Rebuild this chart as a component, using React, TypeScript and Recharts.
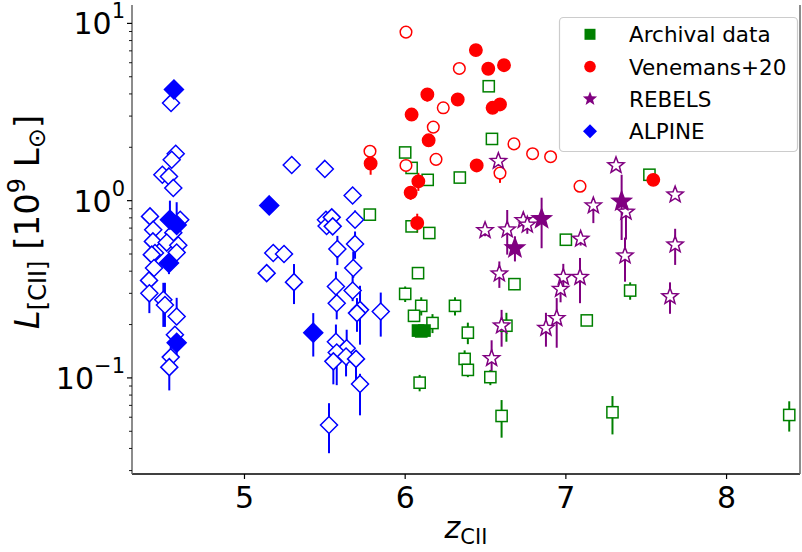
import React from "react";
import { ScatterChart, Scatter, XAxis, YAxis, ErrorBar } from "recharts";

// each row: [z, L (1e9 Lsun), err-, err+]
const archivalOpen = [
  [6.52, 4.42, 0, 0], [6.54, 2.23, 0, 0], [6.0, 1.87, 0, 0], [6.04, 1.53, 0, 0],
  [6.14, 1.31, 0.05, 0.05], [6.34, 1.35, 0, 0], [5.78, 0.834, 0, 0], [6.04, 0.716, 0.03, 0.03],
  [6.15, 0.657, 0.03, 0.03], [6.08, 0.39, 0, 0], [6.0, 0.298, 0.03, 0.03], [6.1, 0.255, 0.03, 0.03],
  [6.055, 0.224, 0, 0], [6.17, 0.204, 0.025, 0.025], [6.31, 0.255, 0.03, 0.03], [6.39, 0.18, 0.025, 0.025],
  [6.37, 0.128, 0.015, 0.015], [6.39, 0.111, 0.01, 0.01], [6.53, 0.101, 0.01, 0.01], [6.09, 0.094, 0.01, 0.01],
  [6.68, 0.338, 0.025, 0.025], [6.63, 0.197, 0.037, 0.036], [7.0, 0.602, 0.03, 0.03], [7.13, 0.211, 0, 0],
  [7.52, 1.4, 0, 0], [7.4, 0.311, 0.035, 0.035], [7.29, 0.064, 0.016, 0.015], [8.39, 0.0618, 0.012, 0.012],
  [6.6, 0.061, 0.015, 0.014],
];
const archivalFilled = [
  [6.08, 0.185, 0.01, 0.01], [6.1, 0.183, 0.01, 0.01], [6.12, 0.185, 0.01, 0.01],
];
const venemansOpen = [
  [6.005, 8.93, 0, 0], [6.337, 5.57, 0, 0], [6.237, 3.34, 0, 0], [6.175, 2.6, 0, 0],
  [5.781, 1.9, 0, 0], [6.005, 1.58, 0, 0], [6.192, 1.71, 0.12, 0.12], [6.677, 2.09, 0, 0],
  [6.793, 1.84, 0.08, 0.08], [6.905, 1.77, 0.1, 0.1], [6.59, 1.43, 0.17, 0.06], [7.088, 1.205, 0.07, 0.07],
];
const venemansFilled = [
  [6.44, 7.07, 0, 0], [6.517, 5.55, 0, 0], [6.615, 5.81, 0, 0], [6.138, 3.97, 0.35, 0.35],
  [6.327, 3.72, 0, 0], [6.544, 3.34, 0, 0], [6.59, 3.49, 0, 0], [6.04, 3.06, 0, 0],
  [6.146, 2.19, 0.15, 0.15], [5.785, 1.62, 0.22, 0.05], [6.445, 1.58, 0, 0], [6.082, 1.285, 0.15, 0.15],
  [6.034, 1.11, 0.1, 0.1], [6.075, 0.748, 0.088, 0.096], [7.544, 1.31, 0, 0],
];
const rebelsOpen = [
  [6.58, 1.67, 0.1, 0.05], [6.497, 0.68, 0.05, 0.05], [6.635, 0.686, 0.19, 0.2], [6.735, 0.774, 0.07, 0.07],
  [6.76, 0.73, 0.08, 0.06], [7.092, 0.608, 0.05, 0.05], [7.171, 0.937, 0.19, 0.07], [7.312, 1.58, 0, 0],
  [7.68, 1.08, 0.05, 0.05], [7.374, 0.863, 0.26, 0.07], [7.368, 0.489, 0.14, 0.13], [7.68, 0.564, 0.13, 0.13],
  [7.648, 0.288, 0.058, 0.058], [6.586, 0.387, 0.065, 0.067], [6.984, 0.37, 0.05, 0.07], [7.088, 0.37, 0.106, 0.105],
  [6.967, 0.317, 0.05, 0.06], [6.943, 0.217, 0.069, 0.065], [6.876, 0.191, 0.041, 0.042], [6.6, 0.197, 0.047, 0.045],
  [6.538, 0.129, 0.023, 0.034],
];
const rebelsFilled = [
  [6.849, 0.789, 0.25, 0.25], [6.683, 0.54, 0.086, 0.089], [7.347, 0.99, 0.39, 0.41],
];
const alpineOpen = [
  [4.543, 3.56, 0, 0], [4.572, 1.84, 0, 0], [4.547, 1.7, 0, 0], [4.489, 1.4, 0, 0], [4.53, 1.37, 0, 0],
  [4.557, 1.18, 0, 0], [5.294, 1.59, 0, 0], [5.5, 1.51, 0, 0], [4.412, 0.815, 0, 0], [4.432, 0.686, 0, 0],
  [4.6, 0.78, 0, 0], [4.557, 0.66, 0, 0], [4.43, 0.589, 0, 0], [4.516, 0.58, 0, 0], [4.588, 0.56, 0, 0],
  [4.443, 0.507, 0, 0], [4.578, 0.51, 0, 0], [5.179, 0.507, 0, 0], [5.246, 0.5, 0, 0], [5.507, 0.78, 0, 0],
  [5.511, 0.72, 0, 0], [4.423, 0.496, 0, 0], [4.437, 0.417, 0, 0], [4.406, 0.355, 0.04, 0.04],
  [4.408, 0.3, 0.068, 0.1], [4.495, 0.276, 0.082, 0.068], [4.505, 0.258, 0.064, 0.086], [4.578, 0.222, 0.023, 0.061],
  [4.567, 0.175, 0.02, 0.02], [4.541, 0.131, 0.01, 0.02], [4.532, 0.115, 0.03, 0.01], [5.138, 0.39, 0, 0],
  [5.308, 0.347, 0.086, 0.092], [5.673, 1.07, 0, 0], [5.543, 0.805, 0, 0], [5.549, 0.716, 0, 0],
  [5.688, 0.78, 0.05, 0.1], [5.578, 0.533, 0.1, 0.1], [5.688, 0.57, 0.1, 0.1], [5.677, 0.417, 0.05, 0.1],
  [5.569, 0.328, 0.06, 0.07], [5.673, 0.311, 0.04, 0.1], [5.574, 0.264, 0.05, 0.06], [5.719, 0.242, 0.088, 0.089],
  [5.7, 0.232, 0.05, 0.05], [5.848, 0.237, 0.066, 0.066], [5.569, 0.16, 0.03, 0.04], [5.636, 0.147, 0.03, 0.04],
  [5.574, 0.139, 0.048, 0.02], [5.632, 0.132, 0.03, 0.02], [5.694, 0.128, 0.04, 0.01], [5.553, 0.124, 0.032, 0.02],
  [5.719, 0.0925, 0.031, 0.013], [5.526, 0.0542, 0.0166, 0.0178],
];
const alpineFilled = [
  [4.561, 4.24, 0, 0], [5.154, 0.94, 0, 0], [4.536, 0.78, 0.06, 0.22], [4.578, 0.73, 0.05, 0.25],
  [4.53, 0.445, 0.06, 0.06], [4.578, 0.158, 0.03, 0.03], [5.428, 0.18, 0.048, 0.052],
];

const xTicks = [5, 6, 7, 8];
const yMajor = [0.1, 1, 10];
const yMinor = [0.03, 0.04, 0.05, 0.06, 0.07, 0.08, 0.09, 0.2, 0.3, 0.4, 0.5, 0.6, 0.7, 0.8, 0.9, 2, 3, 4, 5, 6, 7, 8, 9];
const legendItems = ["Archival data", "Venemans+20", "REBELS", "ALPINE"];

const GREEN = "#008000";
const RED = "#ff0000";
const PURPLE = "#800080";
const BLUE = "#0000ff";
const FONT = "DejaVu Sans, sans-serif";

const toRows = (rows: number[][]) =>
  rows.map(([z, L, lo, hi]) => ({ z, L, err: [lo, hi] }));

const starPoints = (cx: number, cy: number, R: number, r: number) => {
  const pts: string[] = [];
  for (let i = 0; i < 10; i++) {
    const rad = i % 2 === 0 ? R : r;
    const a = -Math.PI / 2 + (i * Math.PI) / 5;
    pts.push(`${cx + rad * Math.cos(a)},${cy + rad * Math.sin(a)}`);
  }
  return pts.join(" ");
};

const makeShape = (kind: string, color: string, filled: boolean) => (props: any) => {
  const { cx, cy } = props;
  if (cx == null || cy == null) return null;
  const fill = filled ? color : "#fff";
  const sw = 1.5;
  if (kind === "square") {
    const s = 5.6;
    return <rect x={cx - s} y={cy - s} width={2 * s} height={2 * s} fill={fill} stroke={color} strokeWidth={sw} />;
  }
  if (kind === "circle") {
    return <circle cx={cx} cy={cy} r={filled ? 6.2 : 5.8} fill={fill} stroke={color} strokeWidth={sw} />;
  }
  if (kind === "star") {
    const R = filled ? 10 : 8.5;
    return <polygon points={starPoints(cx, cy, R, R * 0.42)} fill={fill} stroke={color} strokeWidth={sw} />;
  }
  const d = filled ? 9.5 : 8.5;
  return (
    <polygon
      points={`${cx},${cy - d} ${cx + d},${cy} ${cx},${cy + d} ${cx - d},${cy}`}
      fill={fill}
      stroke={color}
      strokeWidth={sw}
    />
  );
};

const XTick = ({ x, y, payload }: any) => (
  <g>
    <line x1={x} x2={x} y1={y} y2={y + 5} stroke="#000" strokeWidth={1.2} />
    <text x={x} y={y + 34} textAnchor="middle" fontSize={30} fontFamily={FONT} fill="#000">
      {payload.value}
    </text>
  </g>
);

const YTick = ({ x, y, payload }: any) => {
  const v = payload.value;
  const major = yMajor.includes(v);
  const exp = Math.round(Math.log10(v));
  return (
    <g>
      <line x1={x} x2={x - (major ? 5 : 3)} y1={y} y2={y} stroke="#000" strokeWidth={major ? 1.2 : 0.9} />
      {major && (
        <text x={x - 7} y={y + 11} textAnchor="end" fontSize={30} fontFamily={FONT} fill="#000">
          <tspan>10</tspan>
          <tspan dy={-16} fontSize={21}>{exp < 0 ? "\u2212" + -exp : exp}</tspan>
        </text>
      )}
    </g>
  );
};

const series = [
  { rows: archivalOpen, kind: "square", color: GREEN, filled: false },
  { rows: archivalFilled, kind: "square", color: GREEN, filled: true },
  { rows: venemansOpen, kind: "circle", color: RED, filled: false },
  { rows: venemansFilled, kind: "circle", color: RED, filled: true },
  { rows: rebelsOpen, kind: "star", color: PURPLE, filled: false },
  { rows: rebelsFilled, kind: "star", color: PURPLE, filled: true },
  { rows: alpineOpen, kind: "diamond", color: BLUE, filled: false },
  { rows: alpineFilled, kind: "diamond", color: BLUE, filled: true },
];

const legendMarks = [
  { kind: "square", color: GREEN },
  { kind: "circle", color: RED },
  { kind: "star", color: PURPLE },
  { kind: "diamond", color: BLUE },
];

const LegendMark = ({ kind, color, cx, cy }: any) => {
  if (kind === "square") return <rect x={cx - 5.5} y={cy - 5.5} width={11} height={11} fill={color} />;
  if (kind === "circle") return <circle cx={cx} cy={cy} r={5.8} fill={color} />;
  if (kind === "star") return <polygon points={starPoints(cx, cy, 7.5, 3.2)} fill={color} />;
  return <polygon points={`${cx},${cy - 7} ${cx + 7},${cy} ${cx},${cy + 7} ${cx - 7},${cy}`} fill={color} />;
};

export default function App() {
  return (
    <div style={{ position: "absolute", left: 0, top: 0, width: 802, height: 552, background: "#fff" }}>
      <ScatterChart width={802} height={552} margin={{ top: 5, right: 1, bottom: 18, left: 32 }}>
        <XAxis
          dataKey="z"
          type="number"
          domain={[4.3, 8.457]}
          ticks={xTicks}
          allowDataOverflow
          height={60}
          tickSize={0}
          tickMargin={0}
          tick={<XTick />}
          axisLine={{ stroke: "#000", strokeWidth: 1.5 }}
          tickLine={false}
        />
        <XAxis
          xAxisId="top"
          orientation="top"
          type="number"
          domain={[4.3, 8.457]}
          height={0}
          tick={false}
          tickLine={false}
          axisLine={{ stroke: "#666", strokeWidth: 1.5 }}
        />
        <YAxis
          dataKey="L"
          type="number"
          scale="log"
          domain={[0.0287, 12.7]}
          ticks={[...yMinor, ...yMajor].sort((a, b) => a - b)}
          allowDataOverflow
          width={100}
          tickSize={0}
          tickMargin={0}
          tick={<YTick />}
          tickLine={false}
          interval={0}
          axisLine={{ stroke: "#666", strokeWidth: 1.5 }}
        />
        <YAxis
          yAxisId="right"
          orientation="right"
          type="number"
          domain={[0, 1]}
          width={1}
          tick={false}
          tickLine={false}
          axisLine={{ stroke: "#666", strokeWidth: 1.5 }}
        />
        {series.map((s, i) => (
          <Scatter
            key={i}
            data={toRows(s.rows)}
            dataKey="L"
            shape={makeShape(s.kind, s.color, s.filled)}
            isAnimationActive={false}
          >
            <ErrorBar dataKey="err" direction="y" width={0} stroke={s.color} strokeWidth={2} isAnimationActive={false} />
          </Scatter>
        ))}
      </ScatterChart>
      <svg
        width={802}
        height={552}
        style={{ position: "absolute", left: 0, top: 0, pointerEvents: "none" }}
        fontFamily={FONT}
      >
        <text x={466} y={538} textAnchor="middle" fontSize={30} fill="#000">
          <tspan fontStyle="italic">z</tspan>
          <tspan fontSize={21} dy={6}>CII</tspan>
        </text>
        <text transform="rotate(-90 39 222)" x={39} y={222} textAnchor="middle" fontSize={34} fill="#000">
          <tspan fontStyle="italic">L</tspan>
          <tspan fontSize={24} dy={7}>[CII]</tspan>
          <tspan dy={-7}> [10</tspan>
          <tspan fontSize={24} dy={-14}>9</tspan>
          <tspan dy={14}> L</tspan>
          <tspan fontSize={24} dy={6}>{"\u2299"}</tspan>
          <tspan dy={-6}>]</tspan>
        </text>
        <rect x={559.5} y={17.5} width={238} height={134} rx={4} fill="#fff" fillOpacity={0.8} stroke="#ccc" strokeWidth={1.2} />
        {legendItems.map((label, i) => {
          const cy = 34.3 + i * 32.3;
          return (
            <g key={label}>
              <LegendMark {...legendMarks[i]} cx={590} cy={cy} />
              <text x={629} y={cy + 8} fontSize={21.5} fill="#000">
                {label}
              </text>
            </g>
          );
        })}
      </svg>
    </div>
  );
}
